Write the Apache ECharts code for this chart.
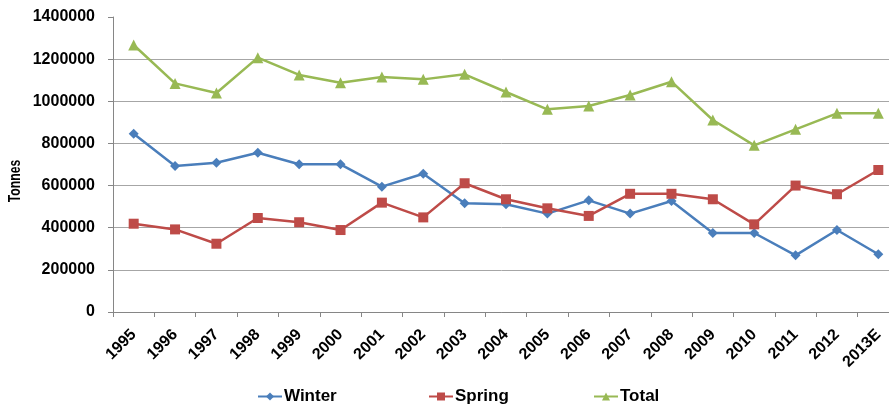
<!DOCTYPE html>
<html>
<head>
<meta charset="utf-8">
<script src="https://cdn.jsdelivr.net/npm/echarts@6/dist/echarts.min.js"></script>
<style>
  html, body { margin: 0; padding: 0; background: #fff; }
  #chart { width: 889px; height: 407px; }
</style>
</head>
<body>
<div id="chart"></div>
<script>
// Harvest by season, tonnes
const years = ['1995','1996','1997','1998','1999','2000','2001','2002','2003','2004',
               '2005','2006','2007','2008','2009','2010','2011','2012','2013E'];
const winter = [846000, 693000, 708000, 756000, 701000, 701000, 595000, 656000, 516000, 511000,
                467000, 530000, 467000, 527000, 375000, 375000, 269000, 389000, 274000];
const spring = [419000, 392000, 324000, 446000, 426000, 389000, 519000, 449000, 611000, 535000,
                492000, 456000, 561000, 561000, 535000, 416000, 600000, 559000, 674000];
const total  = [1267000, 1085000, 1039000, 1207000, 1125000, 1088000, 1115000, 1104000, 1128000, 1044000,
                962000, 978000, 1030000, 1093000, 911000, 791000, 867000, 943000, 943000];
const seriesNames = ['Winter', 'Spring', 'Total'];

const FONT = '"Liberation Sans", Arial, sans-serif';
const chart = echarts.init(document.getElementById('chart'), null, { renderer: 'canvas' });

function line(name, data, color, symbol, size) {
  return {
    name, type: 'line', data,
    symbol, symbolSize: size,
    lineStyle: { color, width: 2.5 },
    itemStyle: { color },
    animation: false
  };
}

function legendAt(name, left) {
  return {
    left, top: 388, padding: 0,
    itemWidth: 24, itemHeight: 10, itemGap: 0,
    textStyle: { fontFamily: FONT, fontWeight: 'bold', fontSize: 17, color: '#000', padding: [0, 0, 0, -3] },
    data: [name]
  };
}

chart.setOption({
  animation: false,
  grid: { left: 113, right: -10, top: 17, bottom: 95, outerBoundsMode: 'none' },
  legend: [
    legendAt(seriesNames[0], 257),
    legendAt(seriesNames[1], 428),
    legendAt(seriesNames[2], 593)
  ],
  graphic: [{
    type: 'text', x: 16, y: 181, rotation: Math.PI / 2, scaleX: 0.76,
    style: {
      text: 'Tonnes', fontFamily: FONT, fontWeight: 'bold', fontSize: 16,
      fill: '#000', align: 'center', verticalAlign: 'middle'
    }
  }],
  xAxis: {
    type: 'category', data: years, boundaryGap: true,
    axisLine: { lineStyle: { color: '#868686', width: 1 } },
    axisTick: { show: true, alignWithLabel: false, length: 5, lineStyle: { color: '#868686' } },
    axisLabel: {
      rotate: 45, margin: 20, color: '#000', interval: 0,
      fontFamily: FONT, fontWeight: 'bold', fontSize: 16
    }
  },
  yAxis: {
    type: 'value', min: 0, max: 1400000, interval: 200000,
    axisLine: { show: true, lineStyle: { color: '#868686', width: 1 } },
    axisTick: { show: true, length: 5, inside: false, lineStyle: { color: '#868686' } },
    axisLabel: {
      margin: 18, color: '#000', formatter: v => String(v),
      fontFamily: FONT, fontWeight: 'bold', fontSize: 16
    },
    splitLine: { showMaxLine: false, lineStyle: { color: '#a6a6a6', width: 1 } }
  },
  series: [
    line(seriesNames[0], winter, '#4A7EBB', 'diamond', 10),
    line(seriesNames[1], spring, '#BE4B48', 'rect', 10),
    line(seriesNames[2], total, '#98B954', 'triangle', 11)
  ]
});
</script>
</body>
</html>
